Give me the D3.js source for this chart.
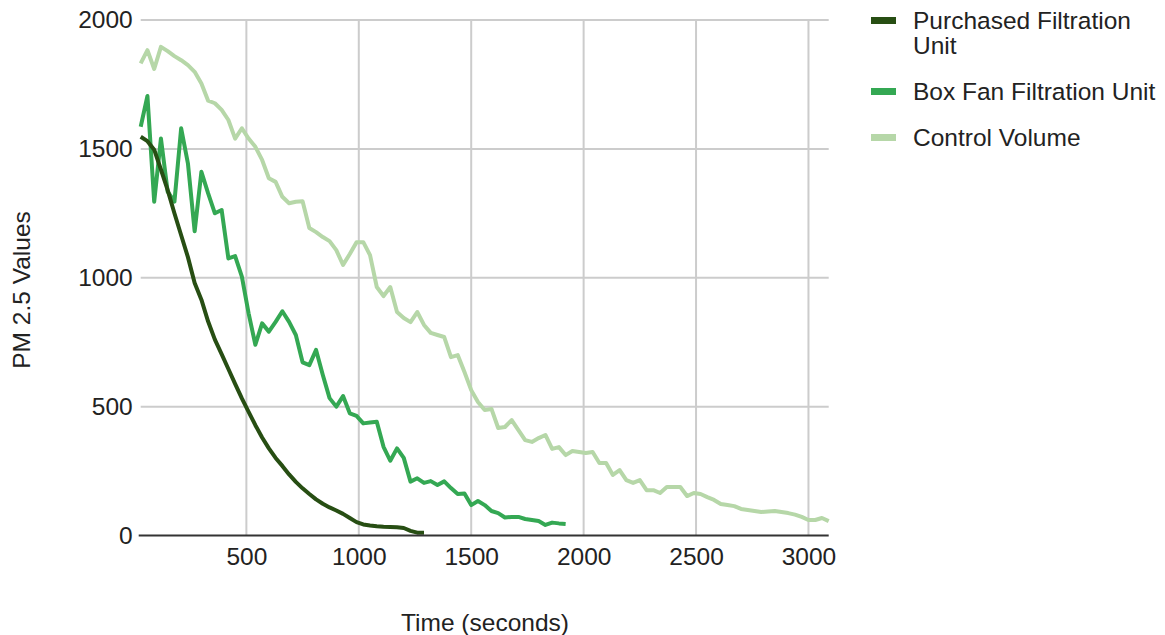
<!DOCTYPE html>
<html>
<head>
<meta charset="utf-8">
<script src="https://cdn.jsdelivr.net/npm/d3@7/dist/d3.min.js"></script>
<style>
  html, body { margin: 0; padding: 0; background: #fff; }
  svg { display: block; font-family: "Liberation Sans", Arial, sans-serif; }
</style>
</head>
<body>
<svg id="chart" width="1165" height="635"></svg>
<script>
// ---- Data ----
const times = [30,60,90,120,150,180,210,240,270,300,330,360,390,420,450,480,510,540,570,600,
  630,660,690,720,750,780,810,840,870,900,930,960,990,1020,1050,1080,1110,1140,1170,1200,
  1230,1260,1290,1320,1350,1380,1410,1440,1470,1500,1530,1560,1590,1620,1650,1680,1710,1740,1770,1800,
  1830,1860,1890,1920,1950,1980,2010,2040,2070,2100,2130,2160,2190,2220,2250,2280,2310,2340,2370,2400,
  2430,2460,2490,2520,2550,2580,2610,2640,2670,2700,2730,2760,2790,2820,2850,2880,2910,2940,2970,3000,
  3030,3060,3090];

const purchased = [1547,1530,1497,1420,1340,1250,1165,1080,980,915,
  830,760,704,646,588,532,480,428,380,338,
  301,270,237,208,183,161,140,123,109,97,
  84,68,52,43,39,36,34,33,32,29,
  18,11,11];

const boxFan = [1586,1705,1295,1540,1334,1295,1580,1444,1180,1411,
  1327,1250,1263,1075,1084,1004,862,740,823,791,
  829,870,829,778,672,661,720,623,533,500,
  541,474,464,435,438,441,344,290,338,301,
  209,222,204,211,196,210,184,161,163,118,
  134,118,95,87,70,72,72,64,60,56,
  41,50,47,45];

const control = [1832,1883,1810,1896,1879,1860,1844,1825,1799,1754,
  1687,1677,1651,1612,1540,1580,1540,1508,1457,1386,
  1372,1314,1289,1295,1297,1193,1177,1158,1142,1107,
  1050,1092,1138,1138,1088,964,929,964,867,844,
  828,867,817,786,778,770,692,700,634,564,
  518,487,491,417,421,448,409,370,363,378,
  390,336,343,312,328,324,320,324,281,281,
  235,254,215,204,215,176,176,165,188,188,
  188,153,165,161,149,138,122,118,114,103,
  99,95,91,93,95,91,87,81,72,60,
  60,68,56];

const seriesNames = ["Purchased Filtration Unit", "Box Fan Filtration Unit", "Control Volume"];
const seriesColors = ["#274e13", "#34a853", "#b6d7a8"];
const xTicks = [500, 1000, 1500, 2000, 2500, 3000];
const yTicks = [0, 500, 1000, 1500, 2000];
const xTitle = "Time (seconds)";
const yTitle = "PM 2.5 Values";

(function () {
const FS = 24.5;
const svg = d3.select("#chart");
const pL = 140.7, pR = 828.7, pT = 20, pB = 535.5;

const x = d3.scaleLinear().domain([30, 3090]).range([pL, pR]);
const y = d3.scaleLinear().domain([0, 2000]).range([pB, pT]);

// gridlines
const grid = svg.append("g");
grid.selectAll("line.v").data(xTicks).join("line")
  .attr("x1", d => x(d)).attr("x2", d => x(d))
  .attr("y1", pT).attr("y2", pB)
  .attr("stroke", "#cccccc").attr("stroke-width", 2);
grid.selectAll("line.h").data(yTicks.filter(d => d > 0)).join("line")
  .attr("x1", pL).attr("x2", pR)
  .attr("y1", d => y(d)).attr("y2", d => y(d))
  .attr("stroke", "#cccccc").attr("stroke-width", 2);

// axes
const xAxis = svg.append("g").attr("transform", `translate(0,${pB})`)
  .call(d3.axisBottom(x).tickValues(xTicks).tickSize(0).tickPadding(12).tickFormat(d3.format("d")));
xAxis.select(".domain").remove();
xAxis.selectAll("text").attr("font-size", FS).attr("fill", "#222")
  .attr("font-family", "Liberation Sans, Arial, sans-serif");

const yAxis = svg.append("g").attr("transform", `translate(${pL},0)`)
  .call(d3.axisLeft(y).tickValues(yTicks).tickSize(0).tickPadding(8).tickFormat(d3.format("d")));
yAxis.select(".domain").remove();
yAxis.selectAll("text").attr("font-size", FS).attr("fill", "#222")
  .attr("font-family", "Liberation Sans, Arial, sans-serif");

// lines
const seriesData = [purchased, boxFan, control];
const line = d3.line().x((d, i) => x(times[i])).y(d => y(d));
const plot = svg.append("g");
[2, 1, 0].forEach(k => {
  plot.append("path")
    .datum(seriesData[k])
    .attr("fill", "none")
    .attr("stroke", seriesColors[k])
    .attr("stroke-width", 4)
    .attr("stroke-linejoin", "round")
    .attr("d", line);
});

// baseline
svg.append("line")
  .attr("x1", pL - 2).attr("x2", pR)
  .attr("y1", y(0)).attr("y2", y(0))
  .attr("stroke", "#333").attr("stroke-width", 2);

// axis titles
svg.append("text")
  .attr("x", 485).attr("y", 631)
  .attr("text-anchor", "middle").attr("font-size", FS).attr("fill", "#222")
  .text(xTitle);
svg.append("text")
  .attr("transform", `translate(30,290) rotate(-90)`)
  .attr("text-anchor", "middle").attr("font-size", FS).attr("fill", "#222")
  .text(yTitle);

// legend
const legend = svg.append("g");
const legendRows = [
  { lines: ["Purchased Filtration", "Unit"], y: 20 },
  { lines: ["Box Fan Filtration Unit"], y: 91 },
  { lines: ["Control Volume"], y: 137 }
];
legendRows.forEach((r, i) => {
  legend.append("rect")
    .attr("x", 871).attr("y", r.y - 3).attr("width", 25).attr("height", 7)
    .attr("fill", seriesColors[i]);
  const t = legend.append("text")
    .attr("x", 913).attr("y", r.y + 9)
    .attr("font-size", FS).attr("fill", "#222");
  r.lines.forEach((s, j) => {
    t.append("tspan").attr("x", 913).attr("dy", j === 0 ? 0 : 25).text(s);
  });
});
})();
</script>
</body>
</html>
